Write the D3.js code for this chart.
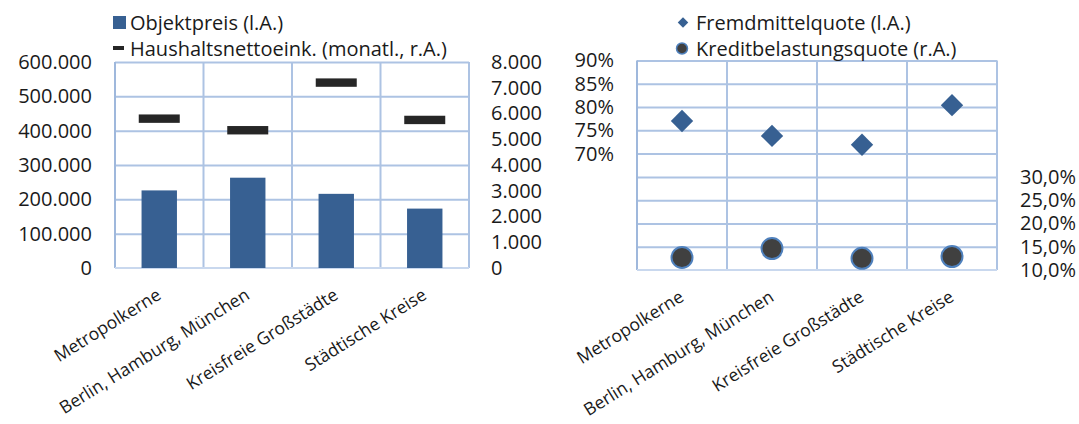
<!DOCTYPE html>
<html>
<head>
<meta charset="utf-8">
<script src="https://cdn.jsdelivr.net/npm/d3@7"></script>
<style>
  body { margin: 0; background: #fff; }
  svg text { font-family: "Open Sans", sans-serif; fill: #1a1a1a; }
  .axis .domain { display: none; }
  .axis line { display: none; }
  .grid .domain { display: none; }
  .grid line { stroke: #adc3e3; stroke-width: 2; }
</style>
</head>
<body>
<svg id="chart" width="1079" height="424"></svg>
<script>
// Regionale Kategorien
const categories = ["Metropolkerne", "Berlin, Hamburg, München", "Kreisfreie Großstädte", "Städtische Kreise"];

// Linkes Diagramm: Objektpreis (l.A.) und Haushaltsnettoeinkommen (monatl., r.A.)
const objektpreis = [226000, 263000, 216000, 173000];
const haushaltseinkommen = [5800, 5350, 7200, 5750];
const preisTicks = [0, 100000, 200000, 300000, 400000, 500000, 600000];
const einkommenTicks = [0, 1000, 2000, 3000, 4000, 5000, 6000, 7000, 8000];

// Rechtes Diagramm: Fremdmittelquote (l.A.) und Kreditbelastungsquote (r.A.)
const fremdmittelquote = [0.770, 0.738, 0.719, 0.804];
const kreditbelastungsquote = [0.127, 0.146, 0.125, 0.129];
const fmqTicks = [0.70, 0.75, 0.80, 0.85, 0.90];
const fmqGrid = [0.45, 0.50, 0.55, 0.60, 0.65, 0.70, 0.75, 0.80, 0.85, 0.90];
const kbqTicks = [0.10, 0.15, 0.20, 0.25, 0.30];

const de = d3.formatLocale({ decimal: ",", thousands: ".", grouping: [3], currency: ["", " €"] });
const fmtNum = de.format(",.0f");
const fmtPct0 = de.format(".0%");
const fmtPct1 = de.format(".1%");

const svg = d3.select("#chart");
const FONT = 20;
const BLUE = "#376092";
const GRID = "#adc3e3";

function frame(g, x0, x1, yTop, yBot, xScale) {
  // vertical category separators
  const bounds = xScale.domain().map(c => xScale(c)).concat([x1]);
  g.selectAll("line.vsep").data(bounds).join("line")
    .attr("class", "vsep")
    .attr("x1", d => d).attr("x2", d => d)
    .attr("y1", yTop).attr("y2", yBot)
    .attr("stroke", (d, i) => i === 0 ? "#9fb8dc" : GRID).attr("stroke-width", 2);
  g.append("line").attr("x1", x0).attr("x2", x1).attr("y1", yBot).attr("y2", yBot)
    .attr("stroke", "#c9d8ee").attr("stroke-width", 2);
}

function xLabels(g, xScale, yBot) {
  g.selectAll("text.xl").data(xScale.domain()).join("text")
    .attr("class", "xl")
    .attr("font-size", 17.5)
    .attr("text-anchor", "end")
    .attr("transform", d => `translate(${xScale(d) + xScale.bandwidth() / 2 + 3},${yBot + 30}) rotate(-32)`)
    .text(d => d);
}

// ---------- Linkes Diagramm ----------
{
  const x0 = 115, x1 = 469, yTop = 62, yBot = 268;
  const g = svg.append("g");
  const x = d3.scaleBand().domain(categories).range([x0, x1]);
  const yL = d3.scaleLinear().domain([0, 600000]).range([yBot, yTop]);
  const yR = d3.scaleLinear().domain([0, 8000]).range([yBot, yTop]);

  g.append("g").attr("class", "grid").attr("transform", `translate(${x0},0)`)
    .call(d3.axisLeft(yL).tickValues(preisTicks.slice(1)).tickSize(-(x1 - x0)).tickFormat(""));
  frame(g, x0, x1, yTop, yBot, x);

  const bw = x.bandwidth() * 0.4;
  g.selectAll("rect.bar").data(objektpreis).join("rect")
    .attr("class", "bar")
    .attr("x", (d, i) => x(categories[i]) + (x.bandwidth() - bw) / 2)
    .attr("y", d => yL(d))
    .attr("width", bw)
    .attr("height", d => yBot - yL(d))
    .attr("fill", BLUE);

  g.selectAll("rect.inc").data(haushaltseinkommen).join("rect")
    .attr("class", "inc")
    .attr("x", (d, i) => x(categories[i]) + x.bandwidth() / 2 - 20.5)
    .attr("y", d => yR(d) - 4.2)
    .attr("width", 41).attr("height", 8.4)
    .attr("fill", "#262626");

  g.append("g").attr("class", "axis").attr("transform", `translate(${x0},0)`)
    .call(d3.axisLeft(yL).tickValues(preisTicks).tickSize(0).tickPadding(23).tickFormat(fmtNum))
    .selectAll("text").attr("font-size", FONT);
  g.append("g").attr("class", "axis").attr("transform", `translate(${x1},0)`)
    .call(d3.axisRight(yR).tickValues(einkommenTicks).tickSize(0).tickPadding(22).tickFormat(fmtNum))
    .selectAll("text").attr("font-size", FONT);

  xLabels(g, x, yBot);

  // Legende
  const lg = svg.append("g");
  lg.append("rect").attr("x", 113).attr("y", 16).attr("width", 13).attr("height", 13).attr("fill", BLUE);
  lg.append("text").attr("x", 130).attr("y", 22.5).attr("dy", "0.35em").attr("font-size", FONT).text("Objektpreis (l.A.)");
  lg.append("rect").attr("x", 113).attr("y", 46).attr("width", 11).attr("height", 4).attr("fill", "#262626");
  lg.append("text").attr("x", 130).attr("y", 48.5).attr("dy", "0.35em").attr("font-size", FONT).text("Haushaltsnettoeink. (monatl., r.A.)");
}

// ---------- Rechtes Diagramm ----------
{
  const x0 = 637, x1 = 997, yTop = 60.5, yBot = 270;
  const g = svg.append("g");
  const x = d3.scaleBand().domain(categories).range([x0, x1]);
  const yF = d3.scaleLinear().domain([0.45, 0.90]).range([yBot, yTop]);
  const yK = d3.scaleLinear().domain([0.10, 0.55]).range([yBot, yTop]);

  g.append("g").attr("class", "grid").attr("transform", `translate(${x0},0)`)
    .call(d3.axisLeft(yF).tickValues(fmqGrid.slice(1)).tickSize(-(x1 - x0)).tickFormat(""));
  frame(g, x0, x1, yTop, yBot, x);

  const diamond = d3.symbol().type(d3.symbolSquare).size(250);
  g.selectAll("path.fmq").data(fremdmittelquote).join("path")
    .attr("class", "fmq")
    .attr("d", diamond)
    .attr("transform", (d, i) => `translate(${x(categories[i]) + x.bandwidth() / 2},${yF(d)}) rotate(45)`)
    .attr("fill", BLUE);

  g.selectAll("circle.kbq").data(kreditbelastungsquote).join("circle")
    .attr("class", "kbq")
    .attr("cx", (d, i) => x(categories[i]) + x.bandwidth() / 2)
    .attr("cy", d => yK(d))
    .attr("r", 10.5)
    .attr("fill", "#404040")
    .attr("stroke", "#4f81bd").attr("stroke-width", 2);

  g.append("g").attr("class", "axis").attr("transform", `translate(${x0},0)`)
    .call(d3.axisLeft(yF).tickValues(fmqTicks).tickSize(0).tickPadding(23).tickFormat(fmtPct0))
    .selectAll("text").attr("font-size", FONT);
  g.append("g").attr("class", "axis").attr("transform", `translate(${x1},0)`)
    .call(d3.axisRight(yK).tickValues(kbqTicks).tickSize(0).tickPadding(23).tickFormat(fmtPct1))
    .selectAll("text").attr("font-size", FONT);

  xLabels(g, x, yBot);

  // Legende
  const lg = svg.append("g");
  lg.append("path").attr("d", d3.symbol().type(d3.symbolSquare).size(55))
    .attr("transform", "translate(683,22.5) rotate(45)").attr("fill", BLUE);
  lg.append("text").attr("x", 696).attr("y", 22.5).attr("dy", "0.35em").attr("font-size", FONT).text("Fremdmittelquote (l.A.)");
  lg.append("circle").attr("cx", 682).attr("cy", 48.5).attr("r", 5.5)
    .attr("fill", "#404040").attr("stroke", "#4f81bd").attr("stroke-width", 1.5);
  lg.append("text").attr("x", 696).attr("y", 48.5).attr("dy", "0.35em").attr("font-size", FONT).text("Kreditbelastungsquote (r.A.)");
}
</script>
</body>
</html>
